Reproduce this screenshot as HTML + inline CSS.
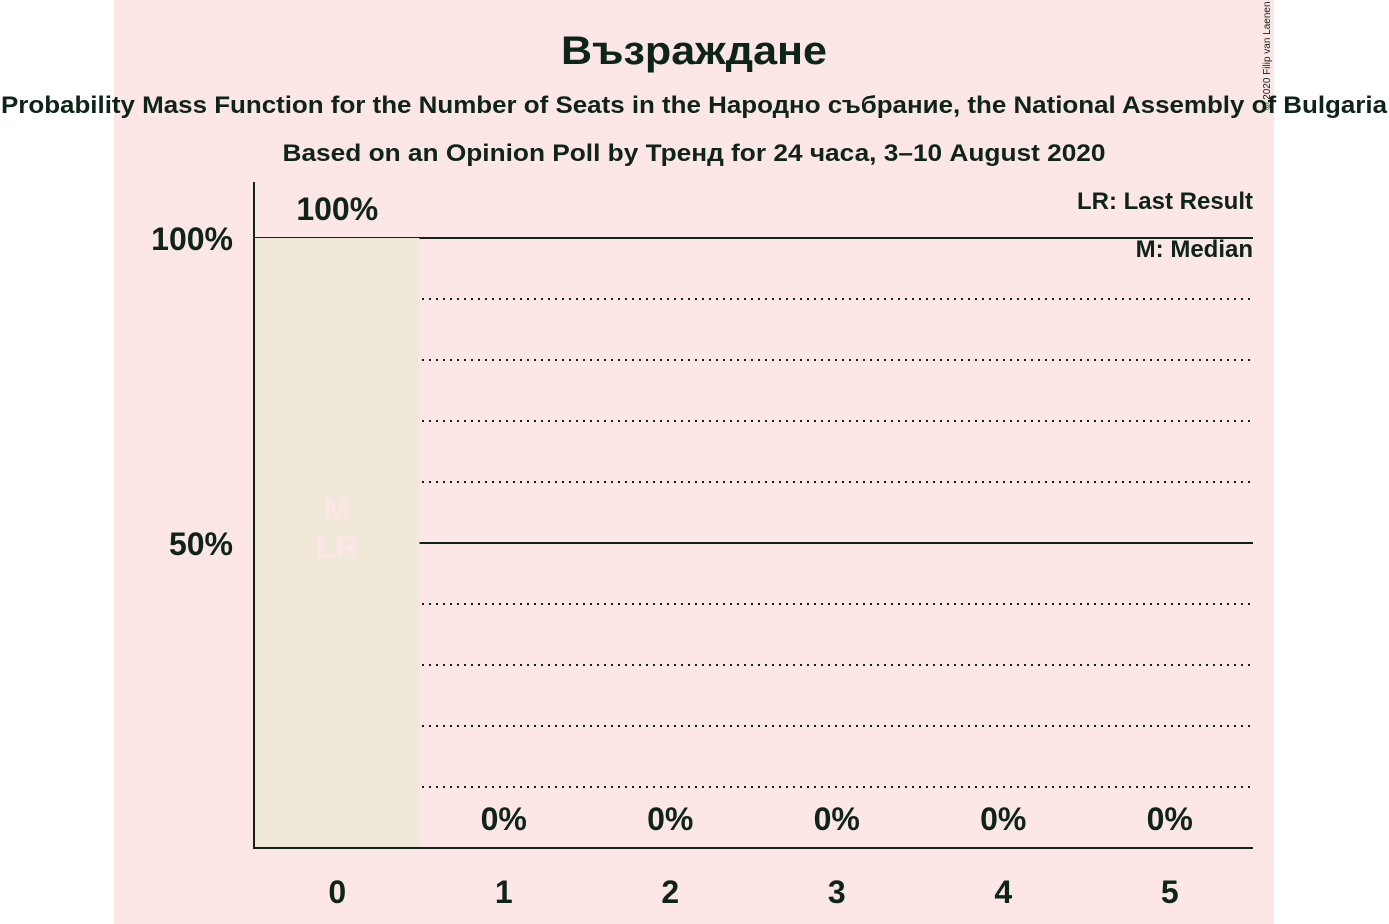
<!DOCTYPE html>
<html><head><meta charset="utf-8"><style>
body{margin:0;width:1389px;height:924px;background:#fff;overflow:hidden}
svg{display:block}
text{font-family:"Liberation Sans",sans-serif;font-weight:bold;fill:#0d2418}
</style></head><body>
<svg id="chart" width="1389" height="924">
<rect x="114" y="0" width="1160" height="924" fill="#fde6e6"/>
<text x="694" y="64" font-size="40" text-anchor="middle" textLength="266" lengthAdjust="spacingAndGlyphs">Възраждане</text>
<text x="694" y="113" font-size="24" text-anchor="middle" textLength="1386" lengthAdjust="spacingAndGlyphs">Probability Mass Function for the Number of Seats in the Народно събрание, the National Assembly of Bulgaria</text>
<text x="694" y="161" font-size="24" text-anchor="middle" textLength="823" lengthAdjust="spacingAndGlyphs">Based on an Opinion Poll by Тренд for 24 часа, 3–10 August 2020</text>
<text transform="translate(1270,110) rotate(-90)" font-size="10" style="font-weight:normal">© 2020 Filip van Laenen</text>
<text x="1253" y="209" font-size="24" text-anchor="end">LR: Last Result</text>
<text x="1253" y="257" font-size="24" text-anchor="end">M: Median</text>
<g id="plot"></g>
</svg>
<script>
const categories=[0,1,2,3,4,5];
const values=[100,0,0,0,0,0];
const valueLabels=["100%","0%","0%","0%","0%","0%"];
const yTicks=[50,100];
const yTickLabels=["50%","100%"];
const dottedTicks=[10,20,30,40,60,70,80,90];
const medianIndex=0, lastResultIndex=0;
const ns="http://www.w3.org/2000/svg";
const g=document.getElementById('plot');
const x0=254,x1=1253,y0=848,y100=238,bw=(x1-x0)/6;
const y=v=>y0-(y0-y100)*v/100;
const xc=i=>x0+bw*(i+0.5);
function mk(t,a){const e=document.createElementNS(ns,t);for(const k in a)e.setAttribute(k,a[k]);g.appendChild(e);return e;}
dottedTicks.forEach(v=>{const l=mk('line',{x1:x0,x2:x1,y1:y(v),y2:y(v),stroke:'#0d2418','stroke-width':2,'stroke-dasharray':'2,5'});

});
yTicks.forEach((v,i)=>{const l=mk('line',{x1:x0,x2:x1,y1:y(v),y2:y(v),stroke:'#0d2418','stroke-width':2});


const t=mk('text',{x:233,y:y(v)+12,'font-size':32,'text-anchor':'end'});t.textContent=yTickLabels[i];

});
categories.forEach((c,i)=>{
 if(values[i]>0){const r=mk('rect',{x:x0+bw*i+1,y:y(values[i]),width:bw-2,height:y0-y(values[i]),fill:'#f0e8d8'});
 
 }
 const t=mk('text',{x:xc(i),y:y(values[i])-18,'font-size':32,'text-anchor':'middle'});t.textContent=valueLabels[i];
 
 
 const xt=mk('text',{x:xc(i),y:903,'font-size':32,'text-anchor':'middle'});xt.textContent=c;
 
 
});
const m=mk('text',{x:xc(medianIndex),y:520,'font-size':32,'text-anchor':'middle',style:'fill:#fde6e6'});m.textContent='M';


const lr=mk('text',{x:xc(lastResultIndex),y:558,'font-size':32,'text-anchor':'middle',style:'fill:#fde6e6'});lr.textContent='LR';


const ya=mk('line',{x1:x0,x2:x0,y1:182,y2:y0+1,stroke:'#0d2418','stroke-width':2});


const xa=mk('line',{x1:x0,x2:x1,y1:y0,y2:y0,stroke:'#0d2418','stroke-width':2});


</script>
</body></html>
